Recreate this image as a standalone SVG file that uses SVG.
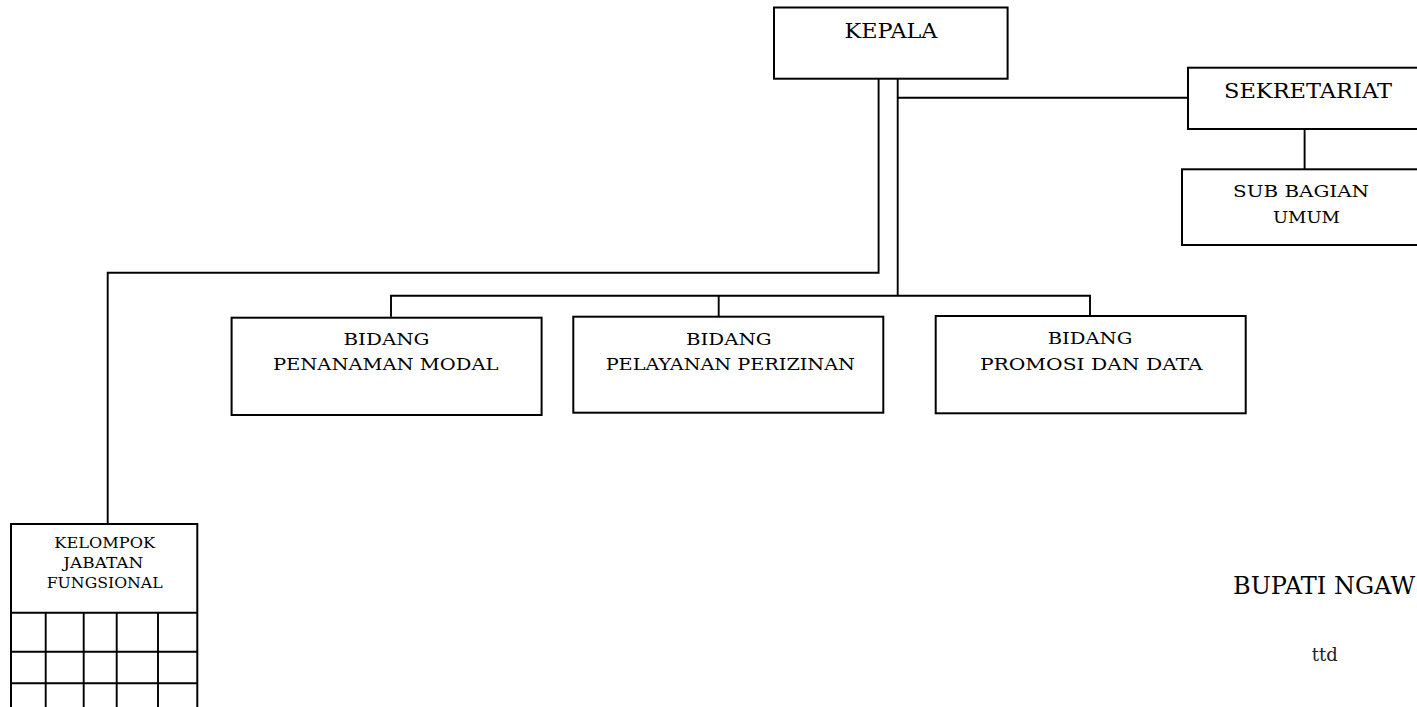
<svg xmlns="http://www.w3.org/2000/svg" width="1417" height="707" viewBox="0 0 1417 707">
<style>
.box{fill:#fff;stroke:#000;stroke-width:2}
.ln{fill:none;stroke:#000;stroke-width:1.9}
.t{font-family:"DejaVu Serif","Liberation Serif",serif;fill:#000;text-anchor:middle}
.l{font-size:20.5px}
.m{font-size:17.5px}
.s{font-size:15px}
</style>
<rect width="1417" height="707" fill="#fff"/>
<g id="connectors">
<path class="ln" d="M878.6,78.7 V272.7 H107.7 V524"/>
<path class="ln" d="M897.7,78.7 V295.7"/>
<path class="ln" d="M897.7,97.7 H1188"/>
<path class="ln" d="M1304.6,129 V169.3"/>
<path class="ln" d="M391,316.7 V295.7 H1090 V316"/>
<path class="ln" d="M718.7,295.7 V316.7"/>
</g>
<g id="kepala">
<rect class="box" x="774" y="7.5" width="233.6" height="71.2"/>
<text class="t l" x="891" y="38.3" textLength="93" lengthAdjust="spacingAndGlyphs">KEPALA</text>
</g>
<g id="sekretariat">
<rect class="box" x="1188" y="67.7" width="260" height="61.3"/>
<text class="t l" x="1308" y="97.7" textLength="168" lengthAdjust="spacingAndGlyphs">SEKRETARIAT</text>
</g>
<g id="subbagian">
<rect class="box" x="1182" y="169.3" width="260" height="75.7"/>
<text class="t m" x="1301" y="197.3" textLength="136" lengthAdjust="spacingAndGlyphs">SUB BAGIAN</text>
<text class="t m" x="1306.5" y="222.7" textLength="67" lengthAdjust="spacingAndGlyphs">UMUM</text>
</g>
<g id="bidang-penanaman">
<rect class="box" x="231.6" y="317.7" width="310" height="97.3"/>
<text class="t m" x="386.5" y="344.5" textLength="86" lengthAdjust="spacingAndGlyphs">BIDANG</text>
<text class="t m" x="385.7" y="369.5" textLength="225.6" lengthAdjust="spacingAndGlyphs">PENANAMAN MODAL</text>
</g>
<g id="bidang-pelayanan">
<rect class="box" x="573.3" y="316.7" width="310" height="96"/>
<text class="t m" x="728.8" y="344.5" textLength="85.7" lengthAdjust="spacingAndGlyphs">BIDANG</text>
<text class="t m" x="730.3" y="369.5" textLength="249.3" lengthAdjust="spacingAndGlyphs">PELAYANAN PERIZINAN</text>
</g>
<g id="bidang-promosi">
<rect class="box" x="935.7" y="316" width="310" height="97.3"/>
<text class="t m" x="1090" y="344.3" textLength="84.7" lengthAdjust="spacingAndGlyphs">BIDANG</text>
<text class="t m" x="1091.3" y="370" textLength="222.7" lengthAdjust="spacingAndGlyphs">PROMOSI DAN DATA</text>
</g>
<g id="kelompok">
<rect class="box" x="11" y="524" width="186.3" height="200"/>
<path class="ln" d="M11,612.7 H197.3 M11,651.7 H197.3 M11,683.3 H197.3 M45.7,612.7 V710 M83.7,612.7 V710 M116.7,612.7 V710 M158,612.7 V710"/>
<text class="t s" x="104.7" y="547.7" textLength="100.7" lengthAdjust="spacingAndGlyphs">KELOMPOK</text>
<text class="t s" x="103.3" y="567.7" textLength="80" lengthAdjust="spacingAndGlyphs">JABATAN</text>
<text class="t s" x="104.7" y="587.7" textLength="116" lengthAdjust="spacingAndGlyphs">FUNGSIONAL</text>
</g>
<g id="signature">
<text class="t" x="1233" y="594.3" style="font-size:24px;text-anchor:start">BUPATI NGAW</text>
<text class="t" x="1311.7" y="661" style="font-size:18px;text-anchor:start;fill:#222">ttd</text>
</g>
</svg>
